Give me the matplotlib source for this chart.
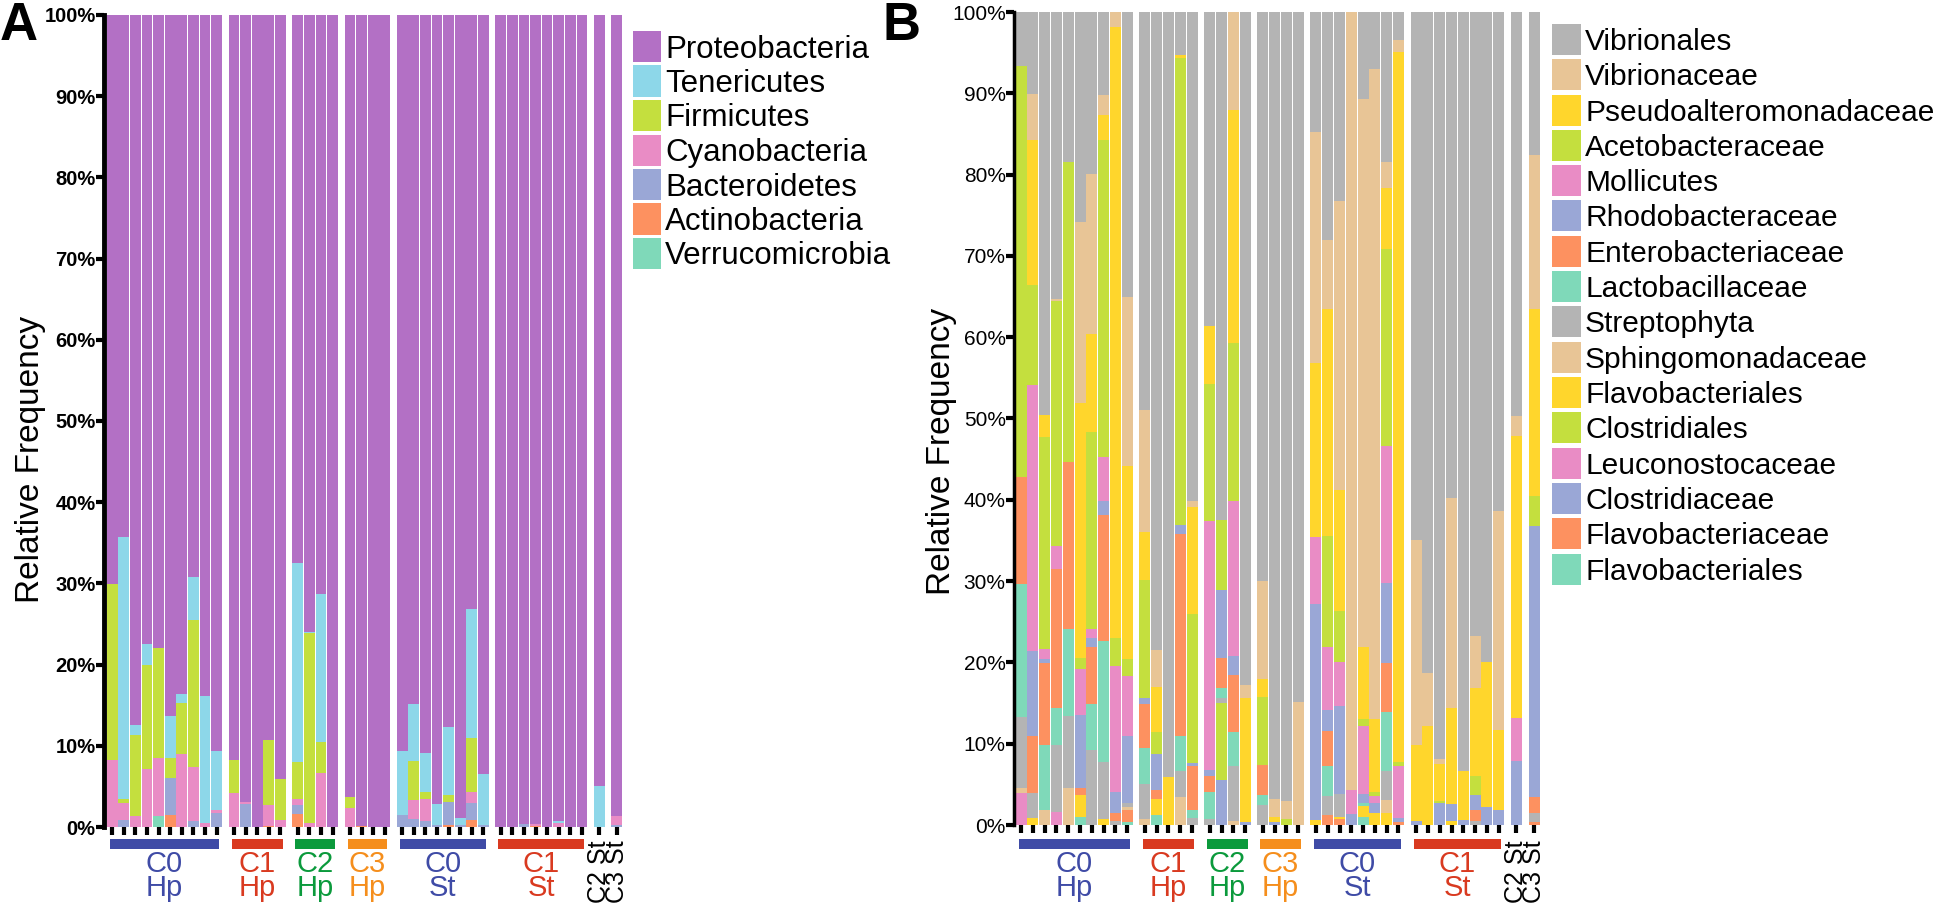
import matplotlib
matplotlib.use("Agg")
import matplotlib.pyplot as plt
import matplotlib.transforms as mtransforms
from matplotlib.patches import Rectangle

plt.rcParams['font.family'] = ['Liberation Sans', 'DejaVu Sans']

# ---------------- data ----------------
group_sizes = [10, 5, 4, 4, 8, 8, 1, 1]
group_top = ['C0', 'C1', 'C2', 'C3', 'C0', 'C1', 'C2', 'C3']
group_bottom = ['Hp', 'Hp', 'Hp', 'Hp', 'St', 'St', 'St', 'St']
group_colors = ['#3F4BA6', '#D93A20', '#0B9A3C', '#F58E1C', '#3F4BA6', '#D93A20', 'black', 'black']

# Panel A (phylum), bottom -> top
phyla = ['Verrucomicrobia', 'Actinobacteria', 'Bacteroidetes', 'Cyanobacteria',
         'Firmicutes', 'Tenericutes', 'Proteobacteria']
verrucomicrobia = [0, 0, 0, 0, 1.3, 0, 0, 0, 0, 0, 0, 0, 0, 0, 0, 0, 0, 0, 0, 0, 0, 0, 0,
                   0, 0, 0, 0, 0, 0, 0, 0, 0, 0, 0, 0, 0, 0, 0, 0, 0, 0]
actinobacteria = [0, 0, 0, 0, 0, 1.5, 0, 0, 0, 0, 0, 0, 0, 0.1, 0, 1.6, 0, 0, 0, 0, 0.1, 0, 0,
                  0, 0, 0, 0, 0.2, 0, 0.9, 0, 0, 0, 0, 0.1, 0, 0, 0, 0, 0, 0]
bacteroidetes = [0, 0.9, 0, 0, 0, 4.5, 0, 0.7, 0, 1.7, 0, 2.8, 0, 0, 0, 1.1, 0, 0, 0, 0, 0, 0, 0,
                 1.5, 1.0, 0.7, 0.2, 2.9, 0.25, 2.0, 0.2, 0, 0, 0.4, 0, 0, 0, 0, 0, 0, 0.2]
cyanobacteria = [8.3, 2.1, 1.4, 7.2, 7.2, 0, 9.0, 6.7, 0.5, 0.4, 4.2, 0.3, 0, 2.6, 0.9, 0.7, 0.5, 6.6, 0,
                 2.4, 0, 0, 0, 0, 2.3, 2.7, 0, 0, 0, 1.4, 0, 0, 0, 0, 0.3, 0, 0.45, 0, 0, 0, 1.1]
firmicutes = [21.6, 0.5, 9.9, 12.8, 13.5, 2.5, 6.3, 18.1, 0, 0, 4.1, 0, 0, 8.0, 5.0, 4.6, 23.4, 3.9, 0,
              1.3, 0, 0, 0, 0, 4.8, 0.9, 0, 0.9, 0, 6.6, 0, 0, 0, 0, 0, 0, 0, 0, 0, 0, 0]
tenericutes = [0, 32.2, 1.3, 2.5, 0, 5.2, 1.1, 5.3, 15.6, 7.2, 0, 0, 0, 0, 0, 24.5, 0.1, 18.2, 0,
               0, 0, 0, 0, 7.8, 7.1, 4.8, 2.6, 8.3, 0.8, 16.0, 6.3, 0, 0, 0, 0, 0, 0.3, 0, 0, 5.0, 0]
proteobacteria = [70.1, 64.3, 87.4, 77.5, 78.0, 86.3, 83.6, 69.2, 83.9, 90.7,
                  91.7, 96.9, 100, 89.3, 94.1, 67.5, 76.0, 71.3, 100, 96.3, 99.9, 100, 100,
                  90.7, 84.8, 90.9, 97.2, 87.7, 98.95, 73.1, 93.5,
                  100, 100, 99.6, 99.6, 100, 99.25, 100, 100, 95.0, 98.7]
phyla_values = [verrucomicrobia, actinobacteria, bacteroidetes, cyanobacteria,
                firmicutes, tenericutes, proteobacteria]
phyla_colors = ['#7FD9B9', '#FD9160', '#9AA7D6', '#E98CC5', '#C4DF3E', '#8DD7E9', '#B370C5']

# Panel B (family / order), bottom -> top
flavobacteriales_2 = ([0, 0, 0, 0, 0, 1.0, 0, 0, 0, 0.4] + [0, 1.2, 0, 0, 0] + [0, 0, 0, 0] + [0, 0, 0, 0]
                      + [0, 0, 0, 0, 1.0, 0, 0, 0] + [0] * 8 + [0] + [0])
flavobacteriaceae = ([0, 0, 0, 0, 0, 0, 0, 0, 0, 1.4] + [0] * 5 + [0] * 4 + [0] * 4
                     + [0, 1.2, 0.7, 0, 0, 0, 0, 0.4] + [0] * 8 + [0] + [0.4])
clostridiaceae = ([0] * 10 + [0] * 5 + [0, 5.5, 0, 0.4] + [0, 0.4, 0, 0]
                  + [0, 0, 0, 1.4, 0, 0, 0, 0.5] + [0.5, 0, 2.7, 0, 0.6, 0, 2.2, 1.8] + [7.9] + [0])
leuconostocaceae = ([3.9, 0, 0, 1.6, 0, 0, 0, 0, 0, 0] + [0] * 5 + [0] * 4 + [0] * 4
                    + [0, 0, 0, 2.9, 0, 0, 0, 6.4] + [0] * 8 + [5.3] + [0])
clostridiales = ([0] * 10 + [0] * 5 + [0, 9.5, 0, 0] + [0, 0, 0.7, 0]
                 + [0, 0, 0, 0, 0, 0, 0, 0.5] + [0, 0, 0.2, 0, 0, 0, 0, 0] + [0] + [0])
flavobacteriales = ([0, 0.9, 0, 0, 0, 2.7, 0, 0.7, 0, 0] + [0, 2.0, 5.9, 0, 0] + [0, 0, 0, 15.2]
                    + [0, 0.6, 0, 0] + [0.6, 0, 0.3, 0, 1.3, 1.5, 1.5, 87.3]
                    + [9.3, 12.2, 4.6, 0.5, 6.0, 0, 17.8, 9.9] + [34.6] + [0])
sphingomonadaceae = ([0.7, 0, 1.9, 0, 4.5, 0, 0, 0, 0, 0.4] + [0.7, 0, 0, 3.5, 0] + [0, 0, 0.5, 1.6]
                     + [0, 2.2, 2.2, 15.1] + [0, 0, 0, 95.7, 0, 0, 1.6, 1.4]
                     + [25.2, 6.5, 0.6, 0, 0, 0, 0, 26.9] + [2.5] + [0])
streptophyta = ([8.7, 3.0, 0, 8.2, 8.9, 0, 9.2, 7.1, 0.5, 0.5] + [4.4, 0, 0, 3.1, 0.9] + [0.7, 0.6, 6.7, 0]
                + [2.5, 0, 0, 0] + [0, 2.4, 2.8, 0, 0, 0, 3.5, 0] + [0, 0, 0, 0, 0, 0.5, 0, 0] + [0] + [1.1])
lactobacillaceae = ([16.4, 0, 7.9, 4.6, 10.7, 0, 5.7, 14.8, 0, 0] + [4.4, 0, 0, 4.3, 1.0] + [3.4, 1.2, 4.3, 0]
                    + [1.2, 0, 0, 0] + [0, 3.7, 0, 0, 0.4, 0, 7.3, 0] + [0] * 8 + [0] + [0])
enterobacteriaceae = ([13.1, 7.0, 10.1, 17.1, 20.5, 0.8, 7.0, 15.5, 1.0, 0] + [5.4, 1.1, 0, 24.9, 5.4]
                      + [1.9, 3.8, 7.0, 0] + [3.7, 0, 0, 0] + [0, 4.3, 0, 0, 0, 0, 6.0, 0]
                      + [0, 0, 0, 0, 0, 1.3, 0, 0] + [0] + [2.0])
rhodobacteraceae = ([0, 10.5, 0.5, 0, 0, 9.0, 1.1, 1.8, 2.5, 8.2] + [0.7, 4.4, 0, 1.1, 0.3] + [0.8, 8.3, 2.3, 0]
                    + [0, 0, 0, 0] + [26.6, 2.6, 10.8, 0, 1.1, 1.2, 9.9, 0]
                    + [0, 0, 0, 2.1, 0, 1.9, 0, 0] + [0] + [33.3])
mollicutes = ([0, 32.7, 1.2, 2.8, 0, 5.7, 1.1, 5.4, 15.6, 7.4] + [0] * 5 + [30.6, 0, 19.0, 0] + [0] * 4
              + [8.2, 7.7, 5.4, 0, 8.4, 0.9, 16.8, 0] + [0] * 8 + [0] + [0])
acetobacteraceae = ([50.6, 12.3, 26.1, 30.1, 37.0, 1.3, 24.2, 39.0, 3.4, 2.1] + [14.5, 2.7, 0, 57.5, 18.4]
                    + [16.8, 8.6, 19.5, 0] + [8.4, 0, 0, 0] + [0, 13.7, 6.3, 0, 0.8, 0.4, 24.2, 0]
                    + [0, 0, 0, 0, 0, 2.3, 0, 0] + [0] + [3.7])
pseudoalteromonadaceae = ([0, 17.8, 2.7, 0, 0, 31.4, 12.1, 3.0, 75.1, 23.8] + [6.0, 5.6, 0, 0.3, 13.1]
                          + [7.2, 0, 28.7, 0] + [2.1, 0, 0, 0] + [21.4, 27.9, 14.9, 0, 8.9, 9.0, 7.5, 0]
                          + [0, 0, 0, 11.8, 0, 10.9, 0, 0] + [0] + [23.0])
vibrionaceae = ([0, 5.7, 0, 0.3, 0, 22.3, 19.7, 2.5, 1.9, 20.8] + [15.0, 4.5, 0, 0, 0.7] + [0, 0, 12.0, 0]
                + [12.1, 0, 0, 0] + [28.5, 8.4, 35.5, 0, 67.4, 80.0, 3.2, 0]
                + [0, 0, 0, 25.8, 0, 6.4, 0, 0] + [0] + [18.9])
vibrionales = ([6.6, 10.1, 49.6, 35.3, 18.4, 25.8, 19.9, 10.2, 0, 35.0] + [48.9, 78.5, 94.1, 5.3, 60.2]
               + [38.6, 62.5, 0, 82.8] + [70.0, 96.8, 97.1, 84.9] + [14.7, 28.1, 23.3, 0, 10.7, 7.0, 18.5, 3.5]
               + [65.0, 81.3, 91.9, 59.8, 93.4, 76.7, 80.0, 61.4] + [49.7] + [17.6])

taxa = ['Flavobacteriales', 'Flavobacteriaceae', 'Clostridiaceae', 'Leuconostocaceae',
        'Clostridiales', 'Flavobacteriales', 'Sphingomonadaceae', 'Streptophyta',
        'Lactobacillaceae', 'Enterobacteriaceae', 'Rhodobacteraceae', 'Mollicutes',
        'Acetobacteraceae', 'Pseudoalteromonadaceae', 'Vibrionaceae', 'Vibrionales']
taxa_values = [flavobacteriales_2, flavobacteriaceae, clostridiaceae, leuconostocaceae,
               clostridiales, flavobacteriales, sphingomonadaceae, streptophyta,
               lactobacillaceae, enterobacteriaceae, rhodobacteraceae, mollicutes,
               acetobacteraceae, pseudoalteromonadaceae, vibrionaceae, vibrionales]
cyc = ['#7FD9B9', '#FD9160', '#9AA7D6', '#E98CC5', '#C4DF3E', '#FFD62C', '#E8C596', '#B4B4B4']
taxa_colors = cyc + cyc

yticks = list(range(0, 101, 10))
ytick_labels = [f'{v}%' for v in yticks]

# ---------------- layout ----------------
W, H = 1944, 913
fig = plt.figure(figsize=(W / 100, H / 100), dpi=100)

centers, group_spans = [], []
x = 0.0
for n in group_sizes:
    start = x
    for j in range(n):
        centers.append(x + 0.5)
        x += 1
    group_spans.append((start, x))
    x += 0.5
x_end = x - 0.5


def fy(py):
    return 1 - py / H


def make_panel(left_px, right_px, top_px, bottom_px, xleft, values, colors, spine_w, tick_size, tick_weight):
    ax = fig.add_axes([left_px / W, fy(bottom_px), (right_px - left_px) / W, (bottom_px - top_px) / H])
    bottom = [0.0] * len(centers)
    for vals, c in zip(values, colors):
        ax.bar(centers, vals, bottom=bottom, width=0.93, color=c, linewidth=0)
        bottom = [b + v for b, v in zip(bottom, vals)]
    ax.set_xlim(xleft, x_end)
    ax.set_ylim(0, 100)
    for s in ['top', 'right', 'bottom']:
        ax.spines[s].set_visible(False)
    ax.spines['left'].set_linewidth(spine_w)
    ax.set_xticks(centers)
    ax.set_xticklabels([])
    ax.tick_params(axis='x', length=5.5, width=3, color='black', direction='out')
    ax.set_yticks(yticks)
    ax.set_yticklabels(ytick_labels, fontsize=tick_size, fontweight=tick_weight)
    ax.tick_params(axis='y', length=5.5, width=3, pad=0.5, color='black')

    trans = mtransforms.blended_transform_factory(ax.transData, fig.transFigure)
    for (s, e), t1, t2, c, n in zip(group_spans, group_top, group_bottom, group_colors, group_sizes):
        xc = (s + e) / 2
        if n > 1:
            ax.plot([s + 0.3, e - 0.3], [fy(844), fy(844)], transform=trans, color=c, lw=7.2,
                    solid_capstyle='butt', clip_on=False)
            ax.text(xc, fy(850), f'{t1}\n{t2}', transform=trans, ha='center', va='top', fontsize=21,
                    color=c, linespacing=0.8)
        else:
            ax.text(xc, fy(840), f'{t1} {t2}', transform=trans, ha='center', va='top', rotation=90,
                    fontsize=18, color=c)
    return ax


axA = make_panel(104, 622.5, 15, 827, -0.2, phyla_values, phyla_colors, 3.5, 14.5, 'bold')
axA.set_ylabel('Relative Frequency', fontsize=24)
axA.yaxis.set_label_coords(-0.112, 0.453)

axB = make_panel(1014, 1540, 12, 825, -0.1, taxa_values, taxa_colors, 2.5, 15, 'normal')
axB.set_ylabel('Relative Frequency', fontsize=24)
axB.yaxis.set_label_coords(-0.108, 0.46)

# panel letters
fig.text(0 / W, fy(1), 'A', fontsize=38, fontweight='bold', va='top', ha='left')
fig.text(882 / W, fy(1), 'B', fontsize=38, fontweight='bold', va='top', ha='left')


# legends (drawn top -> bottom)
def legend(x_px, top_px, step, sw, sh, labels, colors, fsize):
    for i, (lab, c) in enumerate(zip(labels, colors)):
        y0 = top_px + i * step
        fig.patches.append(Rectangle((x_px / W, fy(y0 + sh)), sw / W, sh / H,
                                     transform=fig.transFigure, color=c, linewidth=0))
        fig.text((x_px + sw + 4) / W, fy(y0 + sh - 5), lab, fontsize=fsize, va='baseline', ha='left')


legend(633, 31, 34.5, 28, 31.5, phyla[::-1], phyla_colors[::-1], 22.5)
legend(1552, 24, 35.3, 29, 31, taxa[::-1], taxa_colors[::-1], 21.5)

fig.savefig('out.png', dpi=100)
